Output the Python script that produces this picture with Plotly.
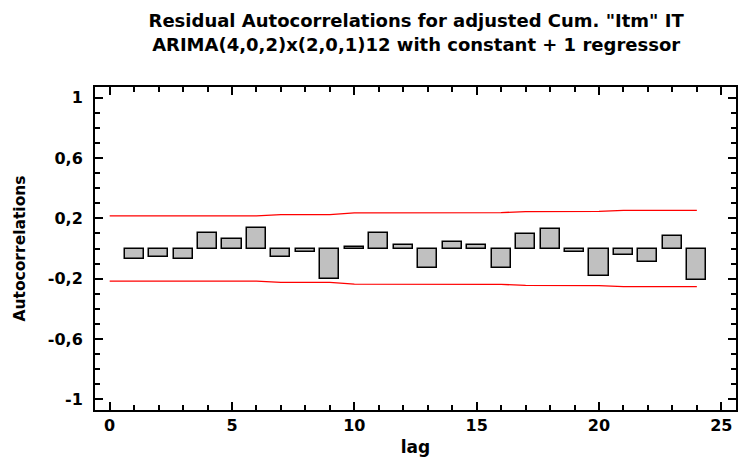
import plotly.graph_objects as go

lags = list(range(1, 25))
acf = [-0.072, -0.055, -0.072, 0.100, 0.063, 0.138, -0.055, -0.020, -0.200, 0.012,
       0.100, 0.022, -0.127, 0.040, 0.020, -0.127, 0.095, 0.130, -0.020, -0.180,
       -0.046, -0.092, 0.085, -0.208]
limit_lags = list(range(0, 25))
upper = [0.216, 0.216, 0.216, 0.216, 0.216, 0.216, 0.216, 0.225, 0.225, 0.225,
         0.236, 0.236, 0.237, 0.237, 0.238, 0.238, 0.238, 0.244, 0.244, 0.246,
         0.246, 0.252, 0.252, 0.253, 0.253]
lower = [-v for v in upper]
ytick_vals = [-1, -0.6, -0.2, 0.2, 0.6, 1]
ytick_text = ["-1", "-0,6", "-0,2", "0,2", "0,6", "1"]
xtick_vals = [0, 5, 10, 15, 20, 25]

FONT = "DejaVu Sans, Liberation Sans, Arial, sans-serif"

fig = go.Figure()
fig.add_trace(go.Bar(x=lags, y=acf, width=0.78,
                     marker=dict(color="#c0c0c0", line=dict(color="black", width=1.5)),
                     showlegend=False))
fig.add_trace(go.Scatter(x=limit_lags, y=upper, mode="lines",
                         line=dict(color="red", width=1.3), showlegend=False))
fig.add_trace(go.Scatter(x=limit_lags, y=lower, mode="lines",
                         line=dict(color="red", width=1.3), showlegend=False))

axis_common = dict(showline=True, linecolor="black", linewidth=2, mirror="allticks",
                   ticks="inside", ticklen=8, tickwidth=2, tickcolor="black",
                   showgrid=False, zeroline=False,
                   tickfont=dict(family=FONT, size=16, color="black", weight="bold"))

fig.update_xaxes(range=[-0.6, 25.6], tickvals=xtick_vals,
                 minor=dict(tickmode="linear", tick0=0, dtick=1, ticks="inside",
                            ticklen=5, tickwidth=1.5, tickcolor="black"),
                 title=dict(text="lag", standoff=7,
                            font=dict(family=FONT, size=17, color="black", weight="bold")),
                 **axis_common)
fig.update_yaxes(range=[-1.07, 1.07], tickvals=ytick_vals, ticktext=ytick_text,
                 ticklabelstandoff=7,
                 minor=dict(tickmode="linear", tick0=0, dtick=0.1, ticks="inside",
                            ticklen=5, tickwidth=1.5, tickcolor="black"),
                 title=dict(text="Autocorrelations", standoff=18,
                            font=dict(family=FONT, size=15.5, color="black", weight="bold")),
                 **axis_common)

fig.update_layout(
    width=741, height=457,
    margin=dict(l=95, r=3, t=87, b=45),
    paper_bgcolor="white", plot_bgcolor="white",
    separators=",.",
    title=dict(text='Residual Autocorrelations for adjusted Cum. "Itm" IT<br>'
                    'ARIMA(4,0,2)x(2,0,1)12 with constant + 1 regressor',
               x=0.5616, xanchor="center", y=0.94, yanchor="top",
               font=dict(family=FONT, size=18, color="black", weight="bold")),
    bargap=0,
)

fig.write_html("out.html")
